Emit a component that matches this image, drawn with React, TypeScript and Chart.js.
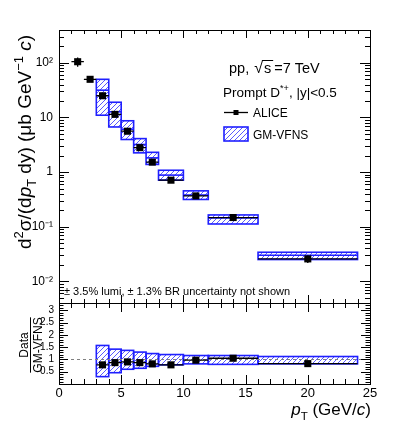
import React, { useEffect, useRef } from 'react';
import { Chart, registerables } from 'chart.js';
Chart.register(...registerables);

// ---------- data ----------
const binLow = [1, 2, 3, 4, 5, 6, 7, 8, 10, 12, 16];
const binHigh = [2, 3, 4, 5, 6, 7, 8, 10, 12, 16, 24];
const aliceValues = [105, 50, 25, 11.4, 5.6, 2.8, 1.52, 0.71, 0.366, 0.147, 0.0257];
const aliceStatErr = [20, 3, 1.5, 0.6, 0.3, 0.15, 0.08, 0.04, 0.02, 0.008, 0.004];

const theoryBinLow = [3, 4, 5, 6, 7, 8, 10, 12, 16];
const theoryBinHigh = [4, 5, 6, 7, 8, 10, 12, 16, 24];
const theoryCentral = [31.6, 12.7, 6.1, 3.2, 1.82, 0.88, 0.38, 0.145, 0.03];
const theoryMin = [11, 6.7, 3.95, 2.25, 1.38, 0.71, 0.315, 0.112, 0.025];
const theoryMax = [50, 19, 8.7, 4.1, 2.3, 1.08, 0.453, 0.164, 0.034];

const ratioValues = [0.78, 0.87, 0.9, 0.87, 0.82, 0.78, 0.97, 1.05, 0.83];
const ratioErr = [0.04, 0.03, 0.03, 0.03, 0.03, 0.03, 0.04, 0.05, 0.12];
const ratioBandMin = [0.3, 0.46, 0.6, 0.64, 0.72, 0.78, 0.82, 0.8, 0.82];
const ratioBandMax = [1.57, 1.42, 1.37, 1.3, 1.24, 1.2, 1.16, 1.16, 1.12];

const logTickValues = [0.01, 0.1, 1, 10, 100];
const logTickLabels = ['10\u207B\u00B2', '10\u207B\u00B9', '1', '10', '10\u00B2'];
const ratioTickValues = [0.5, 1, 1.5, 2, 2.5, 3];
const xTickValues = [0, 5, 10, 15, 20, 25];

const FONT = '"Liberation Sans", Arial, Helvetica, sans-serif';
const BLUE = '#1f1fff';
const HATCH = '#5a5aff';

type Seg = { t: string; it?: boolean; sup?: boolean; sub?: boolean; scale?: number };

function drawRich(ctx: CanvasRenderingContext2D, segs: Seg[], x: number, y: number, size: number, align: 'left' | 'right' | 'center') {
  const parts = segs.map((s) => {
    const fs = (s.sup || s.sub ? size * 0.68 : size) * (s.scale || 1);
    const font = `${s.it ? 'italic ' : ''}${fs}px ${FONT}`;
    ctx.font = font;
    return { s, font, w: ctx.measureText(s.t).width };
  });
  const total = parts.reduce((a, p) => a + p.w, 0);
  let cx = align === 'left' ? x : align === 'right' ? x - total : x - total / 2;
  ctx.textAlign = 'left';
  ctx.textBaseline = 'alphabetic';
  for (const p of parts) {
    ctx.font = p.font;
    const dy = p.s.sup ? -size * 0.42 : p.s.sub ? size * 0.28 : 0;
    ctx.fillText(p.s.t, cx, y + dy);
    cx += p.w;
  }
  return total;
}

function makeHatch(ctx: CanvasRenderingContext2D) {
  const c = document.createElement('canvas');
  c.width = 5;
  c.height = 5;
  const g = c.getContext('2d')!;
  g.strokeStyle = HATCH;
  g.lineWidth = 1;
  g.beginPath();
  g.moveTo(-1, 6);
  g.lineTo(6, -1);
  g.stroke();
  return ctx.createPattern(c, 'repeat')!;
}

const px = (v: number) => Math.round(v) + 0.5;

function drawFrame(ctx: CanvasRenderingContext2D, a: any) {
  ctx.strokeStyle = '#000';
  ctx.lineWidth = 1;
  ctx.strokeRect(px(a.left), px(a.top), Math.round(a.right) - Math.round(a.left), Math.round(a.bottom) - Math.round(a.top));
}

function drawXTicks(ctx: CanvasRenderingContext2D, xs: any, a: any, maj: number, min: number) {
  ctx.beginPath();
  for (let v = 0; v <= 25; v++) {
    const X = px(xs.getPixelForValue(v));
    const L = v % 5 === 0 ? maj : min;
    ctx.moveTo(X, a.top);
    ctx.lineTo(X, a.top + L);
    ctx.moveTo(X, a.bottom);
    ctx.lineTo(X, a.bottom - L);
  }
  ctx.stroke();
}

function noPad(s: any) {
  s.paddingTop = 0;
  s.paddingBottom = 0;
  s.paddingLeft = 0;
  s.paddingRight = 0;
}

const topDecor = {
  id: 'topDecor',
  beforeDatasetsDraw(chart: any) {
    const { ctx, scales } = chart;
    const x = scales.x;
    const y = scales.y;
    const hatch = makeHatch(ctx);
    ctx.save();
    for (let i = 0; i < theoryCentral.length; i++) {
      const x0 = x.getPixelForValue(theoryBinLow[i]);
      const x1 = x.getPixelForValue(theoryBinHigh[i]);
      const yt = y.getPixelForValue(theoryMax[i]);
      const yb = y.getPixelForValue(theoryMin[i]);
      ctx.fillStyle = hatch;
      ctx.fillRect(x0, yt, x1 - x0, yb - yt);
      ctx.strokeStyle = BLUE;
      ctx.lineWidth = 1.6;
      ctx.strokeRect(x0, yt, x1 - x0, yb - yt);
      const yc = y.getPixelForValue(theoryCentral[i]);
      ctx.beginPath();
      ctx.moveTo(x0, yc);
      ctx.lineTo(x1, yc);
      ctx.stroke();
    }
    ctx.strokeStyle = '#000';
    ctx.lineWidth = 1.3;
    ctx.beginPath();
    for (let i = 0; i < aliceValues.length; i++) {
      const yc = y.getPixelForValue(aliceValues[i]);
      const xc = x.getPixelForValue((binLow[i] + binHigh[i]) / 2);
      ctx.moveTo(x.getPixelForValue(binLow[i]), yc);
      ctx.lineTo(x.getPixelForValue(binHigh[i]), yc);
      ctx.moveTo(xc, y.getPixelForValue(aliceValues[i] + aliceStatErr[i]));
      ctx.lineTo(xc, y.getPixelForValue(aliceValues[i] - aliceStatErr[i]));
    }
    ctx.stroke();
    ctx.restore();
  },
  afterDraw(chart: any) {
    const { ctx, chartArea: a, scales } = chart;
    const x = scales.x;
    const y = scales.y;
    ctx.save();
    drawFrame(ctx, a);
    drawXTicks(ctx, x, a, 8, 4);
    ctx.beginPath();
    for (let d = -3; d <= 3; d++) {
      for (let m = 1; m <= 9; m++) {
        const v = m * Math.pow(10, d);
        if (v < y.min || v > y.max) continue;
        const Y = px(y.getPixelForValue(v));
        const L = m === 1 ? 10 : 5;
        ctx.moveTo(a.left, Y);
        ctx.lineTo(a.left + L, Y);
        ctx.moveTo(a.right, Y);
        ctx.lineTo(a.right - L, Y);
      }
    }
    ctx.stroke();

    ctx.fillStyle = '#000';
    // y axis title
    ctx.save();
    ctx.translate(31, 142);
    ctx.rotate(-Math.PI / 2);
    drawRich(ctx, [
      { t: 'd' }, { t: '2', sup: true }, { t: '\u03C3/(d' }, { t: 'p', it: true }, { t: 'T', sub: true },
      { t: ' dy) (\u03BCb GeV' }, { t: '\u22121', sup: true }, { t: ' ' }, { t: 'c', it: true }, { t: ')' },
    ], 0, 0, 19, 'center');
    ctx.restore();

    // pp, sqrt(s)=7 TeV
    const s1 = 14.5;
    let cx = 229;
    const by = 73;
    cx += drawRich(ctx, [{ t: 'pp, ' }], cx, by, s1, 'left');
    cx += 1;
    cx += drawRich(ctx, [{ t: '\u221A', scale: 1.1 }], cx, by, s1, 'left');
    const sx0 = cx - 1;
    cx += drawRich(ctx, [{ t: 's' }], cx + 1, by, s1, 'left') + 2;
    ctx.lineWidth = 1;
    ctx.beginPath();
    ctx.moveTo(sx0, by - 12.5);
    ctx.lineTo(cx + 1, by - 12.5);
    ctx.stroke();
    drawRich(ctx, [{ t: '=7 TeV' }], cx + 2, by, s1, 'left');

    drawRich(ctx, [{ t: 'Prompt D' }, { t: '*+', sup: true }, { t: ', |y|<0.5' }], 223, 97, 13.5, 'left');

    // legend
    ctx.strokeStyle = '#000';
    ctx.lineWidth = 1.3;
    ctx.beginPath();
    ctx.moveTo(224, 112.5);
    ctx.lineTo(248, 112.5);
    ctx.stroke();
    ctx.fillRect(233.5, 110, 5, 5);
    drawRich(ctx, [{ t: 'ALICE' }], 253, 116.5, 12, 'left');
    ctx.fillStyle = makeHatch(ctx);
    ctx.fillRect(224, 127, 24, 14);
    ctx.strokeStyle = BLUE;
    ctx.lineWidth = 1.6;
    ctx.strokeRect(224, 127, 24, 14);
    ctx.fillStyle = '#000';
    drawRich(ctx, [{ t: 'GM-VFNS' }], 253, 138.5, 12, 'left');

    drawRich(ctx, [{ t: '\u00B1 3.5% lumi, \u00B1 1.3% BR uncertainty not shown' }], 64, 295, 11, 'left');
    ctx.restore();
  },
};

const ratioDecor = {
  id: 'ratioDecor',
  beforeDatasetsDraw(chart: any) {
    const { ctx, scales, chartArea: a } = chart;
    const x = scales.x;
    const y = scales.y;
    const hatch = makeHatch(ctx);
    ctx.save();
    for (let i = 0; i < ratioValues.length; i++) {
      const x0 = x.getPixelForValue(theoryBinLow[i]);
      const x1 = x.getPixelForValue(theoryBinHigh[i]);
      const yt = y.getPixelForValue(ratioBandMax[i]);
      const yb = y.getPixelForValue(ratioBandMin[i]);
      ctx.fillStyle = hatch;
      ctx.fillRect(x0, yt, x1 - x0, yb - yt);
      ctx.strokeStyle = BLUE;
      ctx.lineWidth = 1.6;
      ctx.strokeRect(x0, yt, x1 - x0, yb - yt);
    }
    // dashed line at 1
    ctx.strokeStyle = '#808080';
    ctx.lineWidth = 1;
    ctx.setLineDash([3, 3]);
    ctx.beginPath();
    const y1 = px(y.getPixelForValue(1));
    ctx.moveTo(a.left, y1);
    ctx.lineTo(a.right, y1);
    ctx.stroke();
    ctx.setLineDash([]);
    ctx.strokeStyle = '#000';
    ctx.lineWidth = 1.3;
    ctx.beginPath();
    for (let i = 0; i < ratioValues.length; i++) {
      const yc = y.getPixelForValue(ratioValues[i]);
      const xc = x.getPixelForValue((theoryBinLow[i] + theoryBinHigh[i]) / 2);
      ctx.moveTo(x.getPixelForValue(theoryBinLow[i]), yc);
      ctx.lineTo(x.getPixelForValue(theoryBinHigh[i]), yc);
      ctx.moveTo(xc, y.getPixelForValue(ratioValues[i] + ratioErr[i]));
      ctx.lineTo(xc, y.getPixelForValue(ratioValues[i] - ratioErr[i]));
    }
    ctx.stroke();
    ctx.restore();
  },
  afterDraw(chart: any) {
    const { ctx, chartArea: a, scales } = chart;
    const x = scales.x;
    const y = scales.y;
    ctx.save();
    drawFrame(ctx, a);
    drawXTicks(ctx, x, a, 9, 5);
    ctx.beginPath();
    for (let k = 0; k <= 33; k++) {
      const v = k / 10;
      const Y = px(y.getPixelForValue(v));
      const L = k % 5 === 0 ? 9 : 4.5;
      ctx.moveTo(a.left, Y);
      ctx.lineTo(a.left + L, Y);
      ctx.moveTo(a.right, Y);
      ctx.lineTo(a.right - L, Y);
    }
    ctx.stroke();
    ctx.fillStyle = '#000';
    // x title
    drawRich(ctx, [{ t: 'p', it: true }, { t: 'T', sub: true }, { t: ' (GeV/' }, { t: 'c', it: true }, { t: ')' }], 371, 119, 17, 'right');
    // ratio y title
    ctx.save();
    ctx.translate(30, 49);
    ctx.rotate(-Math.PI / 2);
    ctx.font = `12px ${FONT}`;
    const w = ctx.measureText('GM-VFNS').width;
    drawRich(ctx, [{ t: 'Data' }], 0, -2.5, 12, 'center');
    drawRich(ctx, [{ t: 'GM-VFNS' }], 0, 11.5, 12, 'center');
    ctx.strokeStyle = '#000';
    ctx.lineWidth = 1;
    ctx.beginPath();
    ctx.moveTo(-w / 2, 0.5);
    ctx.lineTo(w / 2, 0.5);
    ctx.stroke();
    ctx.restore();
    ctx.restore();
  },
};

export default function App() {
  const topRef = useRef<HTMLCanvasElement>(null);
  const botRef = useRef<HTMLCanvasElement>(null);

  useEffect(() => {
    const top = new Chart(topRef.current!, {
      type: 'scatter',
      data: {
        datasets: [
          {
            label: 'ALICE',
            data: aliceValues.map((v, i) => ({ x: (binLow[i] + binHigh[i]) / 2, y: v })),
            pointStyle: 'rect',
            pointRadius: 5,
            backgroundColor: '#000',
            borderColor: '#000',
            borderWidth: 0,
            showLine: false,
          },
        ],
      },
      options: {
        responsive: false,
        animation: false,
        events: [],
        layout: { padding: { left: 0, top: 30, right: 29, bottom: 7 } },
        plugins: { legend: { display: false }, tooltip: { enabled: false } },
        scales: {
          x: { type: 'linear', min: 0, max: 25, display: false },
          y: {
            type: 'logarithmic',
            min: 0.004,
            max: 400,
            grid: { display: false, drawTicks: false },
            border: { display: false },
            ticks: {
              autoSkip: false,
              padding: 6,
              color: '#000',
              font: { family: FONT, size: 12 },
              callback: (v: any) => {
                const k = logTickValues.findIndex((t) => Math.abs(t - Number(v)) / t < 1e-6);
                return k >= 0 ? logTickLabels[k] : '';
              },
            },
            afterFit: (s: any) => {
              s.width = 59;
              noPad(s);
            },
          },
        },
      } as any,
      plugins: [topDecor],
    });

    const bot = new Chart(botRef.current!, {
      type: 'scatter',
      data: {
        datasets: [
          {
            label: 'ratio',
            data: ratioValues.map((v, i) => ({ x: (theoryBinLow[i] + theoryBinHigh[i]) / 2, y: v })),
            pointStyle: 'rect',
            pointRadius: 5,
            backgroundColor: '#000',
            borderColor: '#000',
            borderWidth: 0,
            showLine: false,
          },
        ],
      },
      options: {
        responsive: false,
        animation: false,
        events: [],
        layout: { padding: { left: 0, top: 7, right: 29, bottom: 0 } },
        plugins: { legend: { display: false }, tooltip: { enabled: false } },
        scales: {
          x: {
            type: 'linear',
            min: 0,
            max: 25,
            grid: { display: false, drawTicks: false },
            border: { display: false },
            ticks: {
              stepSize: 5,
              autoSkip: false,
              includeBounds: false,
              maxRotation: 0,
              padding: 2,
              color: '#000',
              font: { family: FONT, size: 13 },
              callback: (v: any) => (xTickValues.includes(Number(v)) ? String(v) : ''),
            },
            afterFit: (s: any) => {
              s.height = 53;
              noPad(s);
            },
          },
          y: {
            type: 'linear',
            min: 0,
            max: 3.3,
            grid: { display: false, drawTicks: false },
            border: { display: false },
            ticks: {
              stepSize: 0.5,
              autoSkip: false,
              includeBounds: false,
              padding: 5,
              color: '#000',
              font: { family: FONT, size: 10 },
              callback: (v: any) => {
                const n = Number(v);
                return ratioTickValues.some((t) => Math.abs(t - n) < 1e-6) ? String(Math.round(n * 10) / 10) : '';
              },
            },
            afterFit: (s: any) => {
              s.width = 59;
              noPad(s);
            },
          },
        },
      } as any,
      plugins: [ratioDecor],
    });

    return () => {
      top.destroy();
      bot.destroy();
    };
  }, []);

  return (
    <div style={{ position: 'absolute', left: 0, top: 0, width: 399, height: 437, background: '#fff' }}>
      <canvas ref={topRef} width={399} height={310} style={{ position: 'absolute', left: 0, top: 0, width: 399, height: 310 }} />
      <canvas ref={botRef} width={399} height={141} style={{ position: 'absolute', left: 0, top: 296, width: 399, height: 141 }} />
    </div>
  );
}
